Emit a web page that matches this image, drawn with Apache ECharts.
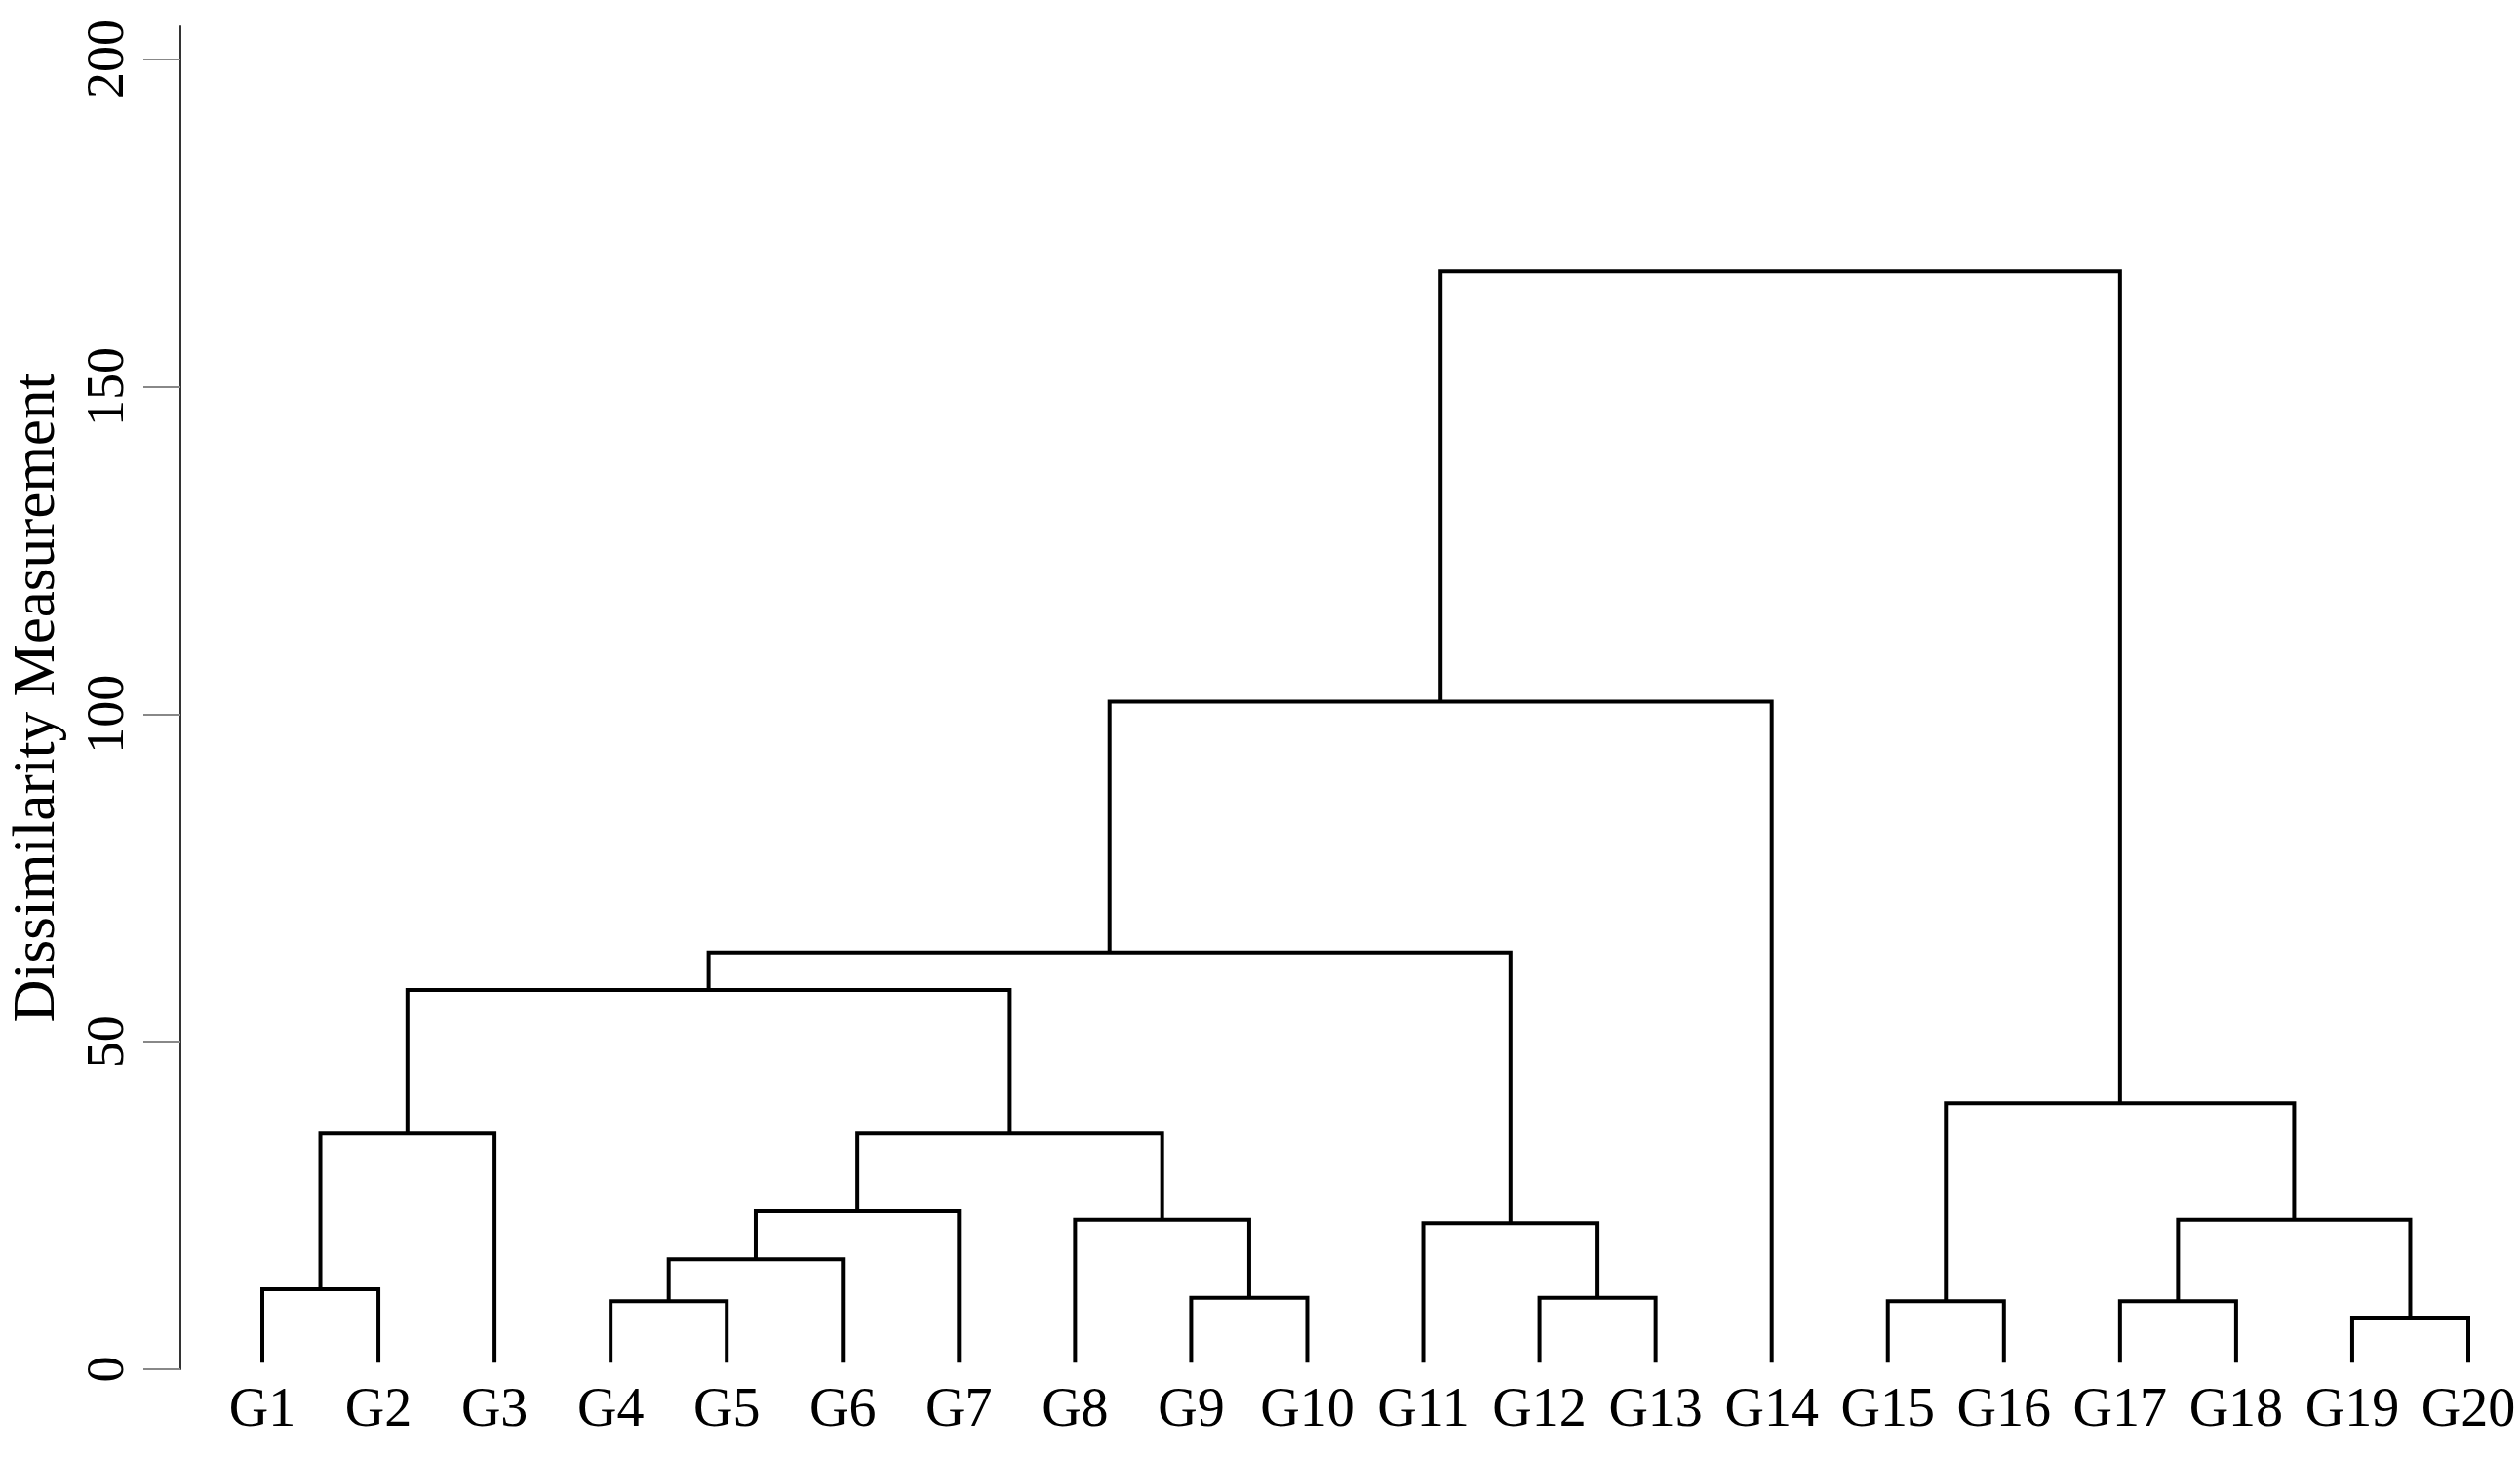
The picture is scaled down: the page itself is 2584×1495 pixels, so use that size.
<!DOCTYPE html>
<html>
<head>
<meta charset="utf-8">
<script src="https://cdn.jsdelivr.net/npm/echarts@6/dist/echarts.min.js"></script>
<style>
html, body { margin: 0; padding: 0; background: #fff; }
#chart { width: 2584px; height: 1495px; }
</style>
</head>
<body>
<div id="chart"></div>
<script>
var leaves = ['G1', 'G2', 'G3', 'G4', 'G5', 'G6', 'G7', 'G8', 'G9', 'G10',
              'G11', 'G12', 'G13', 'G14', 'G15', 'G16', 'G17', 'G18', 'G19', 'G20'];

// merge steps: 0-19 are leaves, 20+ are earlier merges (in this order)
var mergeLeft   = [0, 20, 3, 22, 23, 8, 7, 24, 21, 11, 10, 28, 31, 14, 16, 18, 34, 33, 32];
var mergeRight  = [1, 2, 4, 5, 6, 9, 25, 26, 27, 12, 29, 30, 13, 15, 17, 19, 35, 36, 37];
var mergeHeight = [12.2, 36.0, 10.4, 16.8, 24.1, 10.9, 22.8, 36.0, 57.9, 10.9,
                   22.3, 63.6, 101.9, 10.4, 10.4, 7.9, 22.8, 40.6, 167.6];

var yTicks = [0, 50, 100, 150, 200];
var leafBase = 1;

// position and height of every node
var nodeX = leaves.map(function (d, i) { return i; });
var nodeH = leaves.map(function () { return leafBase; });
var segments = [];
for (var k = 0; k < mergeLeft.length; k++) {
    var a = mergeLeft[k], b = mergeRight[k], h = mergeHeight[k];
    segments.push({
        coords: [[nodeX[a], nodeH[a]], [nodeX[a], h], [nodeX[b], h], [nodeX[b], nodeH[b]]]
    });
    nodeX.push((nodeX[a] + nodeX[b]) / 2);
    nodeH.push(h);
}

var myChart = echarts.init(document.getElementById('chart'));

var serif = 'Liberation Serif';

var option = {
    backgroundColor: '#fff',
    animation: false,
    grid: {
        left: 267,
        right: 53,
        top: 27,
        bottom: 91
    },
    xAxis: [{
        type: 'category',
        data: leaves,
        boundaryGap: false,
        axisLine: { show: false },
        axisTick: { show: false },
        splitLine: { show: false },
        axisLabel: {
            interval: 0,
            margin: 15,
            color: '#000',
            fontFamily: serif,
            fontSize: 56
        }
    }, {
        type: 'value',
        min: 0,
        max: leaves.length - 1,
        show: false
    }],
    yAxis: {
        type: 'value',
        min: 0,
        max: 205,
        offset: 84,
        name: 'Dissimilarity Measurement',
        nameLocation: 'middle',
        nameRotate: 90,
        nameGap: 116,
        nameTextStyle: {
            color: '#000',
            fontFamily: serif,
            fontSize: 61
        },
        axisLine: { show: true, onZero: false, lineStyle: { color: '#333', width: 2 } },
        axisTick: {
            show: true,
            length: 38,
            customValues: yTicks,
            lineStyle: { color: '#888', width: 2 }
        },
        axisLabel: {
            customValues: yTicks,
            rotate: 90,
            margin: 46,
            color: '#000',
            fontFamily: serif,
            fontSize: 54
        },
        splitLine: { show: false }
    },
    series: [{
        type: 'lines',
        coordinateSystem: 'cartesian2d',
        xAxisIndex: 1,
        yAxisIndex: 0,
        polyline: true,
        silent: true,
        lineStyle: { color: '#000', width: 4, opacity: 1 },
        data: segments
    }]
};

myChart.setOption(option);
</script>
</body>
</html>
